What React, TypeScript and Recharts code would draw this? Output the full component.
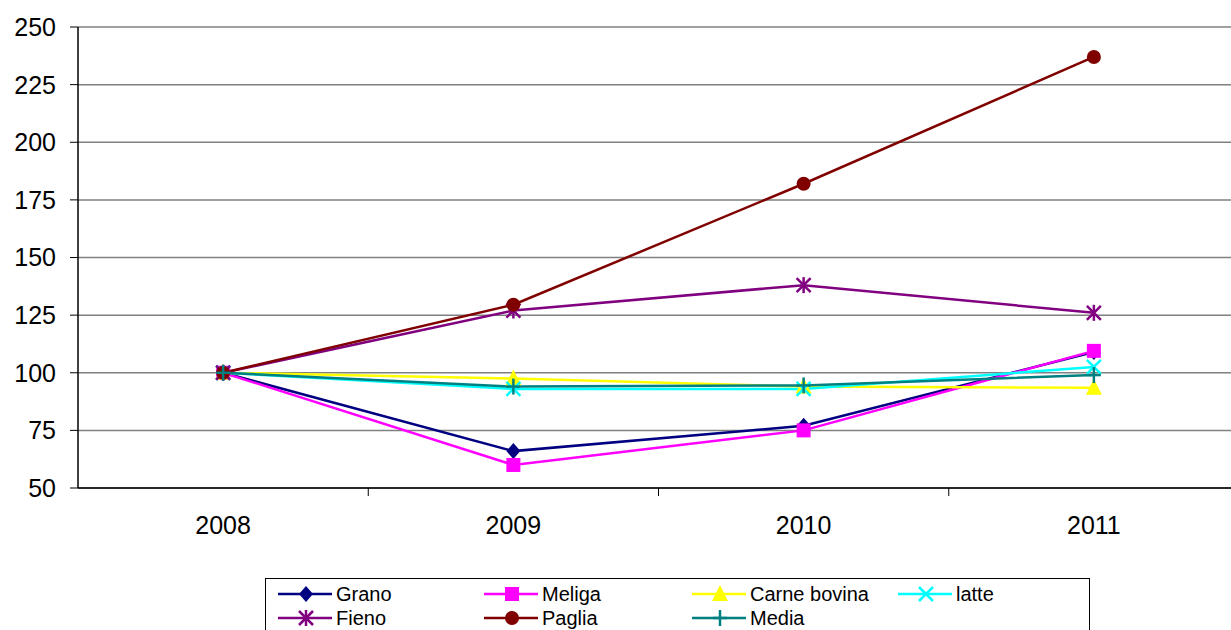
import React from 'react';
import { LineChart, Line, XAxis, YAxis, CartesianGrid } from 'recharts';

const years = ['2008', '2009', '2010', '2011'];
const grano = [100, 66, 77, 109];
const meliga = [100, 60, 75, 109.5];
const carne = [100, 97.5, 94, 93.5];
const latte = [100, 93, 93, 102.5];
const fieno = [100, 127, 138, 126];
const paglia = [100, 129.5, 182, 237];
const media = [100, 94, 94.5, 99];
const yTicks = [50, 75, 100, 125, 150, 175, 200, 225, 250];
const xTicks = [-0.5, 0, 0.5, 1, 1.5, 2, 2.5, 3, 3.5];

const data = years.map((y, i) => ({
  x: i,
  year: y,
  grano: grano[i],
  meliga: meliga[i],
  carne: carne[i],
  latte: latte[i],
  fieno: fieno[i],
  paglia: paglia[i],
  media: media[i],
}));

type Shape = 'diamond' | 'square' | 'triangle' | 'x' | 'star' | 'circle' | 'plus';

const series: { key: string; name: string; color: string; shape: Shape }[] = [
  { key: 'grano', name: 'Grano', color: '#000080', shape: 'diamond' },
  { key: 'meliga', name: 'Meliga', color: '#FF00FF', shape: 'square' },
  { key: 'carne', name: 'Carne bovina', color: '#FFFF00', shape: 'triangle' },
  { key: 'latte', name: 'latte', color: '#00FFFF', shape: 'x' },
  { key: 'fieno', name: 'Fieno', color: '#800080', shape: 'star' },
  { key: 'paglia', name: 'Paglia', color: '#800000', shape: 'circle' },
  { key: 'media', name: 'Media', color: '#008080', shape: 'plus' },
];

const FONT = '"Liberation Sans", Arial, sans-serif';

function Marker({ cx, cy, shape, color }: { cx: number; cy: number; shape: Shape; color: string }) {
  const s = 7;
  switch (shape) {
    case 'diamond':
      return <polygon points={`${cx},${cy - s - 1} ${cx + s},${cy} ${cx},${cy + s + 1} ${cx - s},${cy}`} fill={color} />;
    case 'square':
      return <rect x={cx - s} y={cy - s} width={2 * s} height={2 * s} fill={color} />;
    case 'triangle':
      return <polygon points={`${cx},${cy - s - 2} ${cx + s + 1},${cy + s} ${cx - s - 1},${cy + s}`} fill={color} />;
    case 'x':
      return (
        <g stroke={color} strokeWidth={2.5}>
          <line x1={cx - s} y1={cy - s} x2={cx + s} y2={cy + s} />
          <line x1={cx - s} y1={cy + s} x2={cx + s} y2={cy - s} />
        </g>
      );
    case 'star':
      return (
        <g stroke={color} strokeWidth={2.5}>
          <line x1={cx - s} y1={cy - s} x2={cx + s} y2={cy + s} />
          <line x1={cx - s} y1={cy + s} x2={cx + s} y2={cy - s} />
          <line x1={cx} y1={cy - s - 1} x2={cx} y2={cy + s + 1} />
        </g>
      );
    case 'circle':
      return <circle cx={cx} cy={cy} r={s} fill={color} />;
    case 'plus':
    default:
      return (
        <g stroke={color} strokeWidth={2.5}>
          <line x1={cx - s} y1={cy} x2={cx + s} y2={cy} />
          <line x1={cx} y1={cy - s - 1} x2={cx} y2={cy + s + 1} />
        </g>
      );
  }
}

const makeDot = (shape: Shape, color: string) => (p: any) => (
  <Marker key={`${shape}-${p.index}`} cx={p.cx} cy={p.cy} shape={shape} color={color} />
);

const XTick = (p: any) => {
  const v = p.payload.value;
  if (Number.isInteger(v)) {
    return (
      <text x={p.x} y={p.y + 46} textAnchor="middle" fontSize={25} fontFamily={FONT} fill="#000">
        {years[v]}
      </text>
    );
  }
  if (v > -0.5 && v < 3.5) {
    return <line x1={p.x} y1={p.y} x2={p.x} y2={p.y + 8} stroke="#000" strokeWidth={1} />;
  }
  return <g />;
};

function LegendBox() {
  const cols = [12, 218, 426, 632];
  const rows = [15, 39];
  return (
    <div
      style={{
        position: 'absolute',
        left: 265,
        top: 578,
        width: 825,
        height: 70,
        border: '1px solid #000',
        boxSizing: 'border-box',
        background: '#fff',
        fontFamily: FONT,
        fontSize: 20,
        color: '#000',
      }}
    >
      {series.map((s, i) => {
        const col = cols[i % 4];
        const row = rows[Math.floor(i / 4)];
        return (
          <div
            key={s.key}
            style={{
              position: 'absolute',
              left: col,
              top: row - 12,
              height: 24,
              display: 'flex',
              alignItems: 'center',
              whiteSpace: 'nowrap',
            }}
          >
            <svg width={58} height={24} style={{ display: 'block' }}>
              <line x1={0} y1={12} x2={54} y2={12} stroke={s.color} strokeWidth={2.5} />
              <Marker cx={28} cy={12} shape={s.shape} color={s.color} />
            </svg>
            <span style={{ lineHeight: '24px' }}>{s.name}</span>
          </div>
        );
      })}
    </div>
  );
}

export default function App() {
  return (
    <div style={{ position: 'absolute', left: 0, top: 0, width: 1231, height: 630, overflow: 'hidden', background: '#fff' }}>
      <LineChart
        width={1240}
        height={630}
        data={data}
        margin={{ top: 27, right: 1, left: 0, bottom: 112 }}
      >
        <CartesianGrid vertical={false} stroke="#808080" strokeWidth={1.5} />
        <XAxis
          dataKey="x"
          type="number"
          domain={[-0.5, 3.5]}
          ticks={xTicks}
          interval={0}
          tick={<XTick />}
          tickLine={false}
          tickSize={0}
          tickMargin={0}
          height={30}
          axisLine={{ stroke: '#000', strokeWidth: 1.5 }}
        />
        <YAxis
          type="number"
          domain={[50, 250]}
          ticks={yTicks}
          interval={0}
          width={78}
          tickSize={8}
          tickMargin={14}
          tick={{ fontSize: 25, fontFamily: FONT, fill: '#000' }}
          tickLine={{ stroke: '#000' }}
          axisLine={{ stroke: '#000', strokeWidth: 1.5 }}
        />
        {series.map((s) => (
          <Line
            key={s.key}
            dataKey={s.key}
            name={s.name}
            stroke={s.color}
            strokeWidth={2.5}
            dot={makeDot(s.shape, s.color)}
            activeDot={false}
            isAnimationActive={false}
          />
        ))}
      </LineChart>
      <LegendBox />
    </div>
  );
}
